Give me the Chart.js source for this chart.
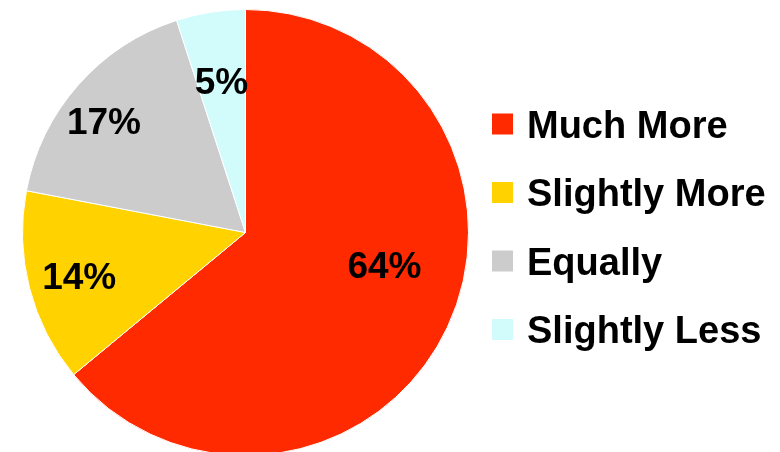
<!DOCTYPE html>
<html>
<head>
<meta charset="utf-8">
<script src="https://cdn.jsdelivr.net/npm/chart.js@4"></script>
<style>
  html, body { margin: 0; padding: 0; background: #fff; overflow: hidden; }
  #wrap { width: 780px; height: 460px; }
</style>
</head>
<body>
<div id="wrap"><canvas id="pie" width="780" height="460"></canvas></div>
<script>
const categories = ['Much More', 'Slightly More', 'Equally', 'Slightly Less'];
const shares = [64, 14, 17, 5];
const sliceColors = ['#FF2A00', '#FFD200', '#CCCCCC', '#D2FCFC'];

// label placement inside each slice (fraction of radius, angle nudge in degrees)
const labelRadius = [0.64, 0.77, 0.81, 0.69];
const labelNudge = [-12, 0, -3, 0];

const sliceLabels = {
    id: 'sliceLabels',
    afterDatasetsDraw(chart) {
        const ctx = chart.ctx;
        const meta = chart.getDatasetMeta(0);
        ctx.save();
        ctx.font = 'bold 37px "Liberation Sans", Arial, sans-serif';
        ctx.fillStyle = '#000';
        ctx.textAlign = 'center';
        ctx.textBaseline = 'alphabetic';
        meta.data.forEach((arc, i) => {
            const p = arc.getProps(['x', 'y', 'startAngle', 'endAngle', 'outerRadius'], true);
            const a = (p.startAngle + p.endAngle) / 2 + labelNudge[i] * Math.PI / 180;
            const r = p.outerRadius * labelRadius[i];
            const x = p.x + Math.cos(a) * r;
            const y = p.y + Math.sin(a) * r;
            ctx.fillText(shares[i] + '%', x, y + 13.3);
        });
        ctx.restore();
    }
};

const sideLegend = {
    id: 'sideLegend',
    afterDraw(chart) {
        const ctx = chart.ctx;
        const ds = chart.data.datasets[0];
        ctx.save();
        ctx.font = 'bold 38px "Liberation Sans", Arial, sans-serif';
        ctx.textAlign = 'left';
        ctx.textBaseline = 'alphabetic';
        chart.data.labels.forEach((lab, i) => {
            const cy = 124 + i * 68.5;
            ctx.fillStyle = ds.backgroundColor[i];
            ctx.fillRect(492, cy - 10.5, 21, 21);
            ctx.fillStyle = '#000';
            ctx.fillText(lab, 527, cy + 13.6);
        });
        ctx.restore();
    }
};

new Chart(document.getElementById('pie'), {
    type: 'pie',
    data: {
        labels: categories,
        datasets: [{
            data: shares,
            backgroundColor: sliceColors,
            borderColor: '#ffffff',
            borderWidth: 1
        }]
    },
    options: {
        responsive: false,
        animation: false,
        layout: { padding: { left: 22, right: 311, top: 9, bottom: 4 } },
        plugins: {
            legend: { display: false },
            tooltip: { enabled: false }
        }
    },
    plugins: [sliceLabels, sideLegend]
});
</script>
</body>
</html>
